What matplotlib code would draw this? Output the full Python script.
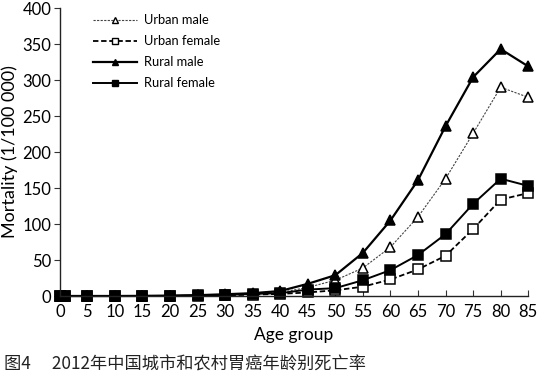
import matplotlib
matplotlib.use("Agg")
import matplotlib.pyplot as plt
from matplotlib.lines import Line2D

# Age groups (0, 1-4, 5-9, ... 85+)
ages = [0, 1, 5, 10, 15, 20, 25, 30, 35, 40, 45, 50, 55, 60, 65, 70, 75, 80, 85]

# Mortality per 100 000
urban_male = [0.1, 0.0, 0.0, 0.1, 0.1, 0.3, 0.8, 1.5, 3, 5, 12, 22, 39, 68, 110, 163, 226, 290, 276]
urban_female = [0.1, 0.0, 0.0, 0.1, 0.1, 0.2, 0.5, 1.0, 2, 3, 5, 8, 13, 23, 37, 56, 93, 134, 143]
rural_male = [0.2, 0.1, 0.1, 0.1, 0.2, 0.5, 1.2, 2.5, 4, 7, 17, 29, 60, 105, 161, 236, 304, 343, 319]
rural_female = [0.2, 0.1, 0.1, 0.1, 0.2, 0.4, 1.0, 1.5, 3, 4, 9, 11, 22, 36, 57, 86, 128, 163, 153]

labels = ["Urban male", "Urban female", "Rural male", "Rural female"]
xticks = list(range(0, 90, 5))
yticks = list(range(0, 450, 50))

plt.rcParams['font.family'] = ['Lato', 'DejaVu Sans']

fig = plt.figure(figsize=(5.44, 3.83), dpi=100)
ax = fig.add_axes([0.110, 0.227, 0.861, 0.752])

# style per series: (linestyle, linewidth, line colour, marker, size, face)
styles = [
    ((0, (2, 1.2)), 0.8, '#444444', '^', 7, 'white'),
    ((0, (3, 1.5)), 1.3, 'black', 's', 7.5, 'white'),
    ('-', 1.6, 'black', '^', 7, 'black'),
    ('-', 1.4, 'black', 's', 6.5, 'black'),
]

handles = []
for values, label, (ls, lw, lc, mk, ms, fc) in zip(
        [urban_male, urban_female, rural_male, rural_female], labels, styles):
    ax.plot(ages, values, color=lc, linestyle=ls, linewidth=lw,
            marker=mk, markersize=ms, markerfacecolor=fc, markeredgecolor='black',
            markeredgewidth=1.1, clip_on=False)
    # smaller markers for the legend keys, as in the original
    handles.append(Line2D([], [], color=lc, linestyle=ls, linewidth=lw,
                          marker=mk, markersize=ms * 0.62, markerfacecolor=fc,
                          markeredgecolor='black', markeredgewidth=1.0, label=label))

ax.set_xlim(0, 85)
ax.set_ylim(0, 400)
ax.set_xticks(xticks)
ax.set_yticks(yticks)
ax.tick_params(axis='x', direction='in', length=4, labelsize=12, pad=6, color='#333333')
ax.tick_params(axis='y', direction='out', length=4, labelsize=12, pad=2, color='#333333')

for side in ['top', 'right']:
    ax.spines[side].set_visible(False)
for side in ['left', 'bottom']:
    ax.spines[side].set_linewidth(1.0)
    ax.spines[side].set_color('#222222')

ax.set_xlabel("Age group", fontsize=12.5, labelpad=5)
ax.set_ylabel("Mortality (1/100 000)", fontsize=13, labelpad=3)

ax.legend(handles=handles, loc='upper left', bbox_to_anchor=(0.06, 0.997), frameon=False,
          fontsize=9.3, handlelength=3.4, handletextpad=0.55,
          labelspacing=0.7, borderaxespad=0)

fig.text(0.008, 0.035, "图4\u2003 2012年中国城市和农村胃癌年龄别死亡率",
         fontsize=12.4, family=['Noto Sans CJK SC', 'DejaVu Sans'], color='#222222')

fig.savefig("out.png", dpi=100)
